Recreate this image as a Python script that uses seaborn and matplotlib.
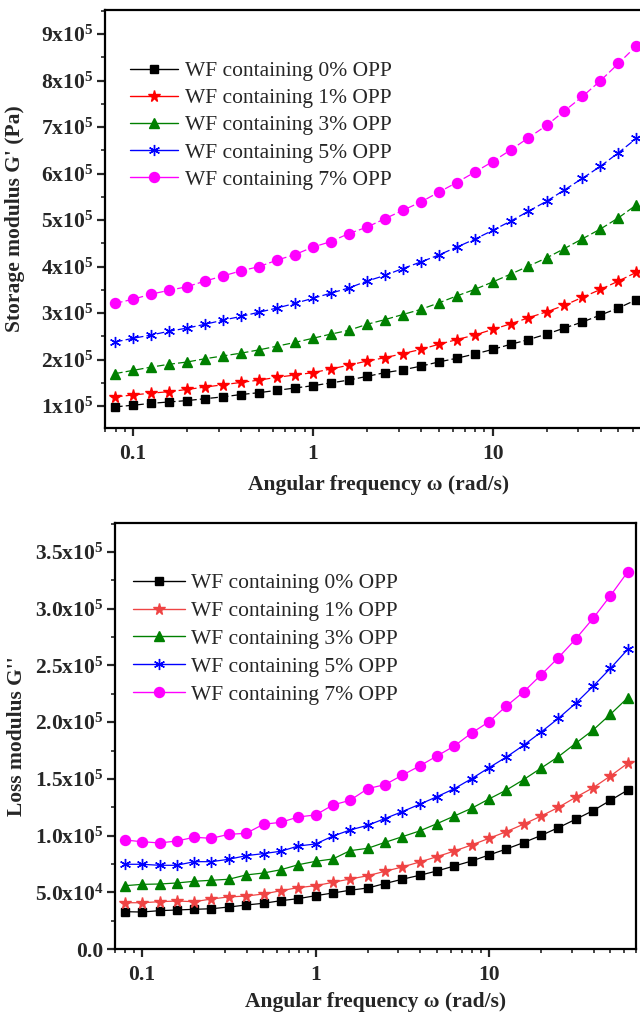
import numpy as np
import pandas as pd
import matplotlib
matplotlib.use("Agg")
import matplotlib.pyplot as plt
import seaborn as sns
from matplotlib.lines import Line2D
from matplotlib.ticker import FixedLocator, FixedFormatter, MultipleLocator, LogLocator, NullFormatter

# ---------------- data ----------------
omega = [0.0794, 0.1, 0.126, 0.158, 0.2, 0.251, 0.316, 0.398, 0.501, 0.631,
         0.794, 1.0, 1.26, 1.58, 2.0, 2.51, 3.16, 3.98, 5.01, 6.31,
         7.94, 10.0, 12.6, 15.8, 20.0, 25.1, 31.6, 39.8, 50.1, 63.1]

series_labels = ["WF containing 0% OPP", "WF containing 1% OPP", "WF containing 3% OPP",
                 "WF containing 5% OPP", "WF containing 7% OPP"]

# Storage modulus G' (units of 1e5 Pa)
g1_0 = [0.985, 1.02, 1.06, 1.09, 1.12, 1.16, 1.20, 1.25, 1.29, 1.34,
        1.39, 1.44, 1.50, 1.56, 1.64, 1.72, 1.78, 1.86, 1.95, 2.03,
        2.12, 2.22, 2.33, 2.43, 2.55, 2.68, 2.81, 2.96, 3.11, 3.29]
g1_1 = [1.20, 1.24, 1.28, 1.31, 1.36, 1.41, 1.46, 1.51, 1.56, 1.62,
        1.67, 1.72, 1.80, 1.88, 1.97, 2.04, 2.13, 2.22, 2.33, 2.43,
        2.53, 2.65, 2.77, 2.90, 3.03, 3.17, 3.34, 3.51, 3.69, 3.88]
g1_3 = [1.70, 1.77, 1.84, 1.90, 1.95, 2.02, 2.08, 2.14, 2.21, 2.29,
        2.37, 2.46, 2.55, 2.63, 2.76, 2.86, 2.97, 3.08, 3.22, 3.37,
        3.51, 3.67, 3.84, 4.01, 4.19, 4.39, 4.60, 4.81, 5.05, 5.33]
g1_5 = [2.38, 2.46, 2.53, 2.61, 2.68, 2.76, 2.85, 2.93, 3.02, 3.11,
        3.21, 3.32, 3.43, 3.54, 3.69, 3.81, 3.96, 4.10, 4.25, 4.42,
        4.59, 4.78, 4.98, 5.19, 5.41, 5.65, 5.90, 6.16, 6.45, 6.76]
g1_7 = [3.21, 3.30, 3.41, 3.49, 3.57, 3.69, 3.80, 3.91, 4.00, 4.14,
        4.26, 4.42, 4.54, 4.71, 4.85, 5.03, 5.21, 5.39, 5.60, 5.81,
        6.03, 6.26, 6.51, 6.77, 7.04, 7.35, 7.66, 8.00, 8.37, 8.75]

# Loss modulus G'' (units of 1e5 Pa)
g2_0 = [0.329, 0.326, 0.338, 0.344, 0.350, 0.355, 0.370, 0.388, 0.403, 0.426,
        0.444, 0.470, 0.494, 0.518, 0.538, 0.577, 0.615, 0.650, 0.688, 0.732,
        0.776, 0.829, 0.882, 0.938, 1.002, 1.070, 1.144, 1.220, 1.311, 1.402]
g2_1 = [0.408, 0.408, 0.417, 0.423, 0.417, 0.441, 0.459, 0.467, 0.485, 0.514,
        0.541, 0.558, 0.588, 0.617, 0.646, 0.685, 0.723, 0.767, 0.814, 0.864,
        0.917, 0.976, 1.035, 1.100, 1.173, 1.249, 1.338, 1.422, 1.526, 1.638]
g2_3 = [0.558, 0.570, 0.573, 0.582, 0.597, 0.606, 0.615, 0.653, 0.670, 0.699,
        0.743, 0.773, 0.794, 0.867, 0.888, 0.940, 0.990, 1.041, 1.105, 1.173,
        1.241, 1.323, 1.402, 1.493, 1.596, 1.696, 1.814, 1.931, 2.070, 2.216]
g2_5 = [0.747, 0.747, 0.738, 0.738, 0.770, 0.770, 0.791, 0.823, 0.841, 0.862,
        0.908, 0.926, 0.996, 1.049, 1.091, 1.150, 1.211, 1.276, 1.343, 1.414,
        1.502, 1.599, 1.693, 1.796, 1.914, 2.034, 2.167, 2.317, 2.475, 2.643]
g2_7 = [0.961, 0.946, 0.935, 0.952, 0.985, 0.976, 1.011, 1.020, 1.100, 1.117,
        1.164, 1.182, 1.270, 1.311, 1.414, 1.449, 1.532, 1.614, 1.702, 1.790,
        1.905, 2.004, 2.143, 2.266, 2.419, 2.569, 2.734, 2.916, 3.116, 3.327]

top_yticks = [1, 2, 3, 4, 5, 6, 7, 8, 9]
top_yticklabels = ["1x10$^{5}$", "2x10$^{5}$", "3x10$^{5}$", "4x10$^{5}$", "5x10$^{5}$",
                   "6x10$^{5}$", "7x10$^{5}$", "8x10$^{5}$", "9x10$^{5}$"]
bot_yticks = [0.0, 0.5, 1.0, 1.5, 2.0, 2.5, 3.0, 3.5]
bot_yticklabels = ["0.0", "5.0x10$^{4}$", "1.0x10$^{5}$", "1.5x10$^{5}$", "2.0x10$^{5}$",
                   "2.5x10$^{5}$", "3.0x10$^{5}$", "3.5x10$^{5}$"]
xticks = [0.1, 1, 10]
xticklabels = ["0.1", "1", "10"]

# ---------------- style ----------------
sns.set_theme(style="ticks")
plt.rcParams["font.family"] = ["Liberation Serif", "DejaVu Serif"]
plt.rcParams["mathtext.default"] = "regular"
plt.rcParams["axes.linewidth"] = 1.6

colors_top = ["#000000", "#FF0000", "#008000", "#0000FF", "#FF00FF"]
colors_bot = ["#000000", "#EF4444", "#008000", "#0000FF", "#FF00FF"]
markers = ["s", "*", "^", (6, 2, 0), "o"]
msizes = [5.5, 8.5, 7.5, 8, 7.2]

fig = plt.figure(figsize=(6.4, 10.13), dpi=100)
ax1 = fig.add_axes([105/640, 1 - 428/1013, 548/640, 418/1013])
ax2 = fig.add_axes([115/640, 1 - 949/1013, 521/640, 426/1013])

top_data = [g1_0, g1_1, g1_3, g1_5, g1_7]
bot_data = [g2_0, g2_1, g2_3, g2_5, g2_7]

def draw(ax, data, colors, ls):
    handles = []
    for vals, c, m, ms, lab in zip(data, colors, markers, msizes, series_labels):
        df = pd.DataFrame({"omega": omega, "G": vals})
        sns.lineplot(data=df, x="omega", y="G", ax=ax, color=c, marker=m,
                     markersize=ms, markeredgecolor=c, markeredgewidth=1.0,
                     linewidth=0.9, linestyle=ls, legend=False)
        handles.append(Line2D([], [], color=c, marker=m, markersize=ms,
                              markeredgecolor=c, linewidth=1.0, linestyle="-"))
    return handles

h1 = draw(ax1, top_data, colors_top, (0, (6, 2.5)))
h2 = draw(ax2, bot_data, colors_bot, "-")

for ax in (ax1, ax2):
    ax.set_xscale("log")
    ax.xaxis.set_major_locator(FixedLocator(xticks))
    ax.xaxis.set_major_formatter(FixedFormatter(xticklabels))
    ax.xaxis.set_minor_locator(LogLocator(base=10, subs=np.arange(2, 10)))
    ax.xaxis.set_minor_formatter(NullFormatter())
    ax.tick_params(axis="both", which="major", direction="out", length=5.5, width=1.6,
                   labelsize=15.5, top=False, right=False)
    ax.tick_params(axis="x", which="major", pad=6)
    ax.tick_params(axis="y", which="major", pad=3)
    ax.tick_params(axis="both", which="minor", direction="out", length=3, width=1.2,
                   top=False, right=False)
    for s in ax.spines.values():
        s.set_color("black")

ax1.set_xlabel("Angular frequency ω (rad/s)", fontsize=15.5, fontweight="bold", labelpad=8)
ax2.set_xlabel("Angular frequency ω (rad/s)", fontsize=15.5, fontweight="bold", labelpad=5)

ax1.set_xlim(0.0697, 78)
ax1.set_ylim(0.53, 9.52)
ax1.yaxis.set_major_locator(FixedLocator(top_yticks))
ax1.yaxis.set_major_formatter(FixedFormatter(top_yticklabels))
ax1.yaxis.set_minor_locator(MultipleLocator(0.5))
ax1.set_ylabel("Storage modulus G' (Pa)", fontsize=15.5, fontweight="bold")
ax1.yaxis.set_label_coords(-0.146, 0.5)

ax2.set_xlim(0.0698, 70.3)
ax2.set_ylim(0, 3.756)
ax2.yaxis.set_major_locator(FixedLocator(bot_yticks))
ax2.yaxis.set_major_formatter(FixedFormatter(bot_yticklabels))
ax2.yaxis.set_minor_locator(MultipleLocator(0.25))
ax2.set_ylabel("Loss modulus G''", fontsize=15.5, fontweight="bold")
ax2.yaxis.set_label_coords(-0.169, 0.5)

for ax in (ax1, ax2):
    for lab in ax.get_xticklabels() + ax.get_yticklabels():
        lab.set_fontweight("bold")

ax1.legend(h1, series_labels, loc="upper left", bbox_to_anchor=(0.046, 0.878), frameon=False,
           fontsize=15.5, handlelength=2.2, handletextpad=0.35, labelspacing=0.33,
           borderaxespad=0, borderpad=0)
ax2.legend(h2, series_labels, loc="upper left", bbox_to_anchor=(0.035, 0.882), frameon=False,
           fontsize=15.5, handlelength=2.4, handletextpad=0.3, labelspacing=0.36,
           borderaxespad=0, borderpad=0)

fig.savefig("out.png", dpi=100)
